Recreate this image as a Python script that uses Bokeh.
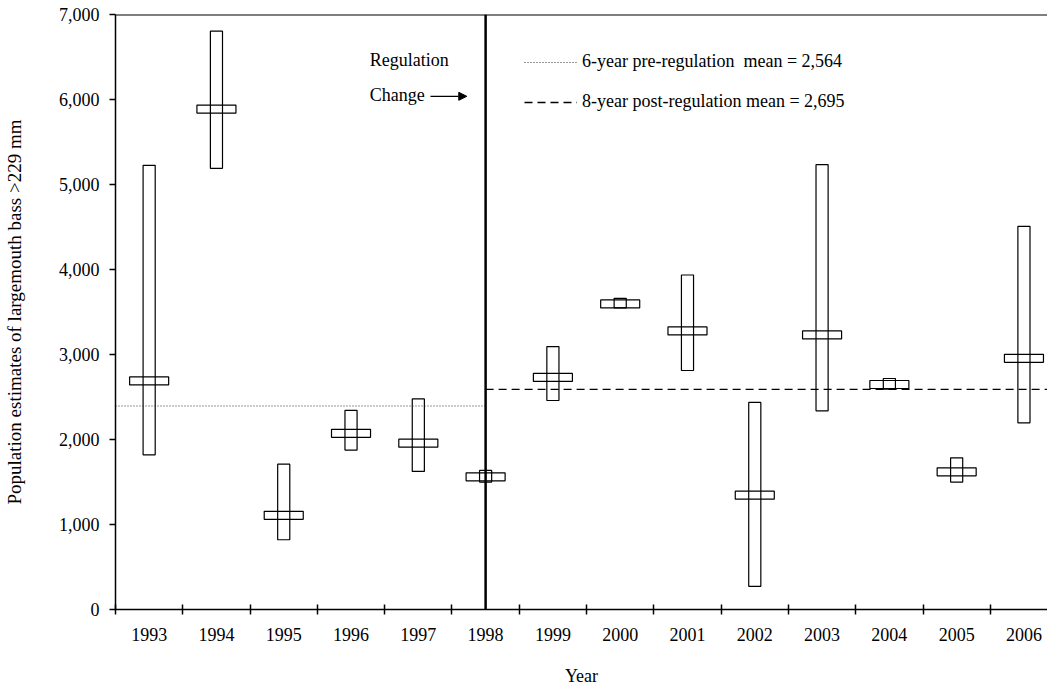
from bokeh.plotting import figure
from bokeh.models import (FixedTicker, NumeralTickFormatter, Span, Label, Arrow,
                          NormalHead, Legend, LegendItem, Range1d, ColumnDataSource)
from bokeh.embed import file_html
from bokeh.resources import INLINE

years = ["1993", "1994", "1995", "1996", "1997", "1998", "1999",
         "2000", "2001", "2002", "2003", "2004", "2005", "2006"]
estimate = [2690, 5890, 1108, 2073, 1958, 1562, 2731, 3596, 3279, 1346, 3232, 2648, 1620, 2956]
ci_low = [1820, 5192, 821, 1876, 1625, 1500, 2460, 3549, 2813, 273, 2338, 2593, 1500, 2197]
ci_high = [5228, 6807, 1711, 2343, 2479, 1637, 3095, 3663, 3937, 2437, 5236, 2719, 1785, 4510]
pre_line_level = 2395
post_line_level = 2590
regulation_index = 5  # 1998

FONT = "Liberation Serif"

idx = list(range(len(years)))
src = ColumnDataSource(dict(
    x=idx,
    est=estimate,
    mid=[(a + b) / 2 for a, b in zip(ci_low, ci_high)],
    h=[b - a for a, b in zip(ci_low, ci_high)],
))

p = figure(frame_width=932, frame_height=595, output_backend="svg", toolbar_location=None,
           x_range=Range1d(-0.5, 13.35), y_range=Range1d(0, 7003),
           min_border_left=111, min_border_right=0, min_border_top=14, min_border_bottom=0)
p.outline_line_color = None
p.grid.visible = False
p.background_fill_color = "white"

# CI rectangles
p.rect(x="x", y="mid", width=0.18, height="h", source=src,
       fill_color="white", line_color="black", line_width=1.2)
# estimate markers
p.rect(x="x", y="est", width=0.58, height=8, height_units="screen", source=src,
       fill_color=None, line_color="black", line_width=1.2)

# mean lines
pre = p.line(x=[-0.5, regulation_index], y=[pre_line_level, pre_line_level],
             line_color="#333333", line_dash="1 2", line_width=1)
post = p.line(x=[regulation_index, 13.35], y=[post_line_level, post_line_level],
              line_color="black", line_dash="8 5", line_width=1.3)

# regulation line
p.add_layout(Span(location=regulation_index, dimension="height",
                  line_color="black", line_width=2.5))
# top border
p.add_layout(Span(location=7000, dimension="width", line_color="black", line_width=1.5))

# axes
p.xaxis.ticker = FixedTicker(ticks=idx, minor_ticks=[i + 0.5 for i in range(-1, 13)])
p.xaxis.major_label_overrides = {i: y for i, y in zip(idx, years)}
p.xaxis.major_tick_line_color = None
p.xaxis.major_tick_in = 0
p.xaxis.major_tick_out = 5
p.xaxis.minor_tick_in = 5
p.xaxis.minor_tick_out = 5
p.xaxis.minor_tick_line_width = 1.5
p.xaxis.axis_line_width = 1.5
p.xaxis.major_label_standoff = 13
p.xaxis.axis_label = "Year"
p.xaxis.axis_label_standoff = 22

p.yaxis.ticker = FixedTicker(ticks=[0, 1000, 2000, 3000, 4000, 5000, 6000, 7000], minor_ticks=[])
p.yaxis.formatter = NumeralTickFormatter(format="0,0")
p.yaxis.major_tick_in = 0
p.yaxis.major_tick_out = 6
p.yaxis.major_tick_line_width = 1.5
p.yaxis.axis_line_width = 1.5
p.yaxis.major_label_standoff = 10
p.yaxis.axis_label = "Population estimates of largemouth bass >229 mm"
p.yaxis.axis_label_standoff = 31

for ax in (p.xaxis, p.yaxis):
    ax.axis_line_color = "black"
    ax.major_label_text_font = FONT
    ax.major_label_text_font_size = "18px"
    ax.major_label_text_color = "black"
    ax.axis_label_text_font = FONT
    ax.axis_label_text_font_style = "normal"
    ax.axis_label_text_color = "black"
p.yaxis.axis_label_text_font_size = "19px"
p.xaxis.axis_label_text_font_size = "18px"

# annotations
p.add_layout(Label(x=3.28, y=6462, text="Regulation", text_font=FONT,
                   text_font_size="18px", text_baseline="middle", text_color="black"))
p.add_layout(Label(x=3.28, y=6051, text="Change", text_font=FONT,
                   text_font_size="18px", text_baseline="middle", text_color="black"))
p.add_layout(Arrow(x_start=4.18, y_start=6040, x_end=4.72, y_end=6040, line_width=1.3,
                   end=NormalHead(size=8, fill_color="black", line_color="black")))

legend = Legend(items=[
    LegendItem(label="6-year pre-regulation  mean = 2,564", renderers=[pre]),
    LegendItem(label="8-year post-regulation mean = 2,695", renderers=[post]),
], location=(409, 497), glyph_width=53, glyph_height=20, label_height=20,
    label_standoff=5, spacing=19, padding=0, margin=0,
    border_line_color=None, background_fill_alpha=0,
    label_text_font=FONT, label_text_font_size="18px", label_text_color="black")
p.add_layout(legend)

open("out.html", "w").write(file_html(p, INLINE))
